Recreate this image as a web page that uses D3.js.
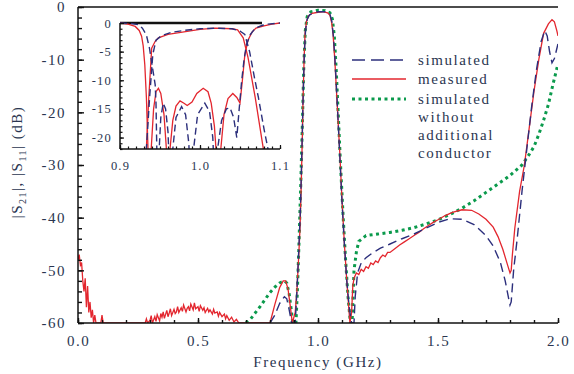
<!DOCTYPE html>
<html>
<head>
<meta charset="utf-8">
<script src="https://cdn.jsdelivr.net/npm/d3@7"></script>
<style>
  body { margin: 0; background: #fff; }
  svg text { font-family: "Liberation Serif", "DejaVu Serif", serif; fill: #2a3550; }
</style>
</head>
<body>
<script>
// S21 over the whole sweep, [GHz, dB]
const measured = [
  [0.0,-48],[0.005,-47],[0.01,-49],[0.015,-48.5],[0.02,-52],[0.025,-54],[0.03,-51.5],[0.035,-57],
  [0.04,-53],[0.045,-58],[0.05,-56],[0.055,-59],[0.06,-57.5],[0.065,-60],[0.07,-58.5],[0.075,-60],
  [0.095,-60],[0.1,-58.5],[0.105,-60],[0.28,-60],[0.285,-59.2],[0.29,-60],[0.3,-59.5],[0.305,-58.6],
  [0.31,-60],[0.32,-58.8],[0.325,-59.7],[0.33,-58.4],[0.34,-59.6],[0.345,-58.2],[0.35,-58.9],[0.355,-57.9],
  [0.36,-59.1],[0.37,-57.6],[0.375,-58.8],[0.38,-58.1],[0.385,-57.3],[0.39,-58.6],[0.4,-57.4],[0.405,-58.2],
  [0.41,-57.9],[0.415,-56.9],[0.42,-58],[0.43,-57.1],[0.435,-57.8],[0.44,-56.6],[0.45,-57.9],[0.455,-57.2],
  [0.46,-56.9],[0.465,-57.7],[0.47,-56.4],[0.48,-57.5],[0.485,-56.2],[0.49,-57.3],[0.5,-56.9],[0.505,-57.8],
  [0.51,-56.7],[0.52,-57.6],[0.525,-57.1],[0.53,-58],[0.54,-57.2],[0.545,-57.9],[0.55,-57.5],[0.56,-58.3],
  [0.565,-57.4],[0.57,-58.1],[0.58,-57.9],[0.585,-58.7],[0.59,-58],[0.6,-58.8],[0.61,-58.3],[0.615,-59.2],
  [0.62,-58.6],[0.63,-59.5],[0.64,-58.9],[0.65,-59.8],[0.66,-59.3],[0.67,-60],
  [0.8,-60],[0.82,-56.5],[0.84,-53.3],[0.855,-52],[0.865,-52],
  [0.875,-53.5],[0.885,-57],[0.893,-60],[0.905,-58],[0.912,-54],[0.92,-47],[0.925,-42],[0.93,-34],
  [0.935,-24],[0.9375,-18],[0.942,-10],[0.946,-5],[0.952,-2.8],[0.96,-1.7],[0.975,-1.2],[1.0,-1.0],
  [1.02,-0.9],[1.04,-1.1],[1.05,-1.6],[1.057,-3],[1.0625,-5],[1.07,-10],[1.079,-17.7],[1.09,-27],
  [1.1,-36.6],[1.11,-45],[1.12,-52],[1.133,-60],[1.14,-58],[1.145,-53],[1.15,-51.5],[1.16,-50.5],
  [1.17,-50.8],[1.18,-49.8],[1.19,-50.2],[1.2,-49.3],[1.21,-49.6],[1.22,-48.6],[1.23,-48.9],[1.24,-48.2],
  [1.25,-48.5],[1.26,-47.6],[1.27,-47.1],[1.28,-47.4],[1.29,-46.6],[1.3,-46.6],[1.32,-45.9],[1.34,-45.2],
  [1.36,-44.6],[1.38,-44],[1.4,-43.4],[1.42,-42.8],[1.44,-42.1],[1.46,-41.5],[1.48,-40.9],[1.5,-40.4],
  [1.53,-39.6],[1.56,-39],[1.6,-38.5],[1.64,-38.6],[1.67,-39.3],[1.7,-40.3],[1.73,-41.8],[1.75,-43.6],
  [1.77,-46],[1.79,-49],[1.8,-50.5],[1.805,-50],[1.81,-47],[1.82,-42],[1.84,-35],[1.86,-30],[1.88,-23],
  [1.9,-16],[1.92,-10],[1.94,-5],[1.96,-3.2],[1.975,-2.4],[1.985,-2.8],[1.995,-4.5],[2.0,-5.5]
];
const simulated = [
  [0.8,-60],[0.82,-58.5],[0.84,-56.3],[0.86,-55],[0.87,-55.4],[0.88,-57.5],[0.89,-60],[0.905,-60],
  [0.912,-54],[0.92,-46],[0.927,-38],[0.933,-27],[0.938,-17],[0.943,-9],[0.948,-4.5],[0.955,-2.3],
  [0.965,-1.5],[0.98,-1.2],[1.0,-0.9],[1.03,-0.9],[1.05,-1.4],[1.058,-2.8],[1.065,-6],[1.072,-11],
  [1.08,-18],[1.09,-27.5],[1.1,-37],[1.11,-45],[1.12,-52],[1.13,-57],[1.14,-60],[1.15,-60],
  [1.155,-55],[1.165,-50.5],[1.18,-48.6],[1.2,-47.6],[1.23,-46.6],[1.26,-45.8],[1.3,-45],[1.35,-44],
  [1.4,-43.1],[1.45,-42],[1.5,-40.9],[1.55,-40.2],[1.6,-40.3],[1.65,-41.3],[1.7,-43.4],[1.73,-45.4],
  [1.76,-48.5],[1.78,-52],[1.795,-55.5],[1.8,-56.6],[1.805,-56],[1.815,-50],[1.83,-44],[1.85,-35],
  [1.87,-27],[1.89,-19],[1.91,-12],[1.93,-6.5],[1.945,-4.5],[1.955,-5.5],[1.965,-8.5],[1.975,-10.6],
  [1.985,-9.8],[2.0,-7]
];
const simNoConductor = [
  [0.7,-60],[0.72,-59.2],[0.74,-58],[0.76,-56.8],[0.78,-55.5],[0.8,-54.2],[0.82,-53.2],[0.84,-52.4],
  [0.86,-52],[0.87,-52.4],[0.88,-54.5],[0.89,-58],[0.895,-60],[0.908,-60],[0.914,-54],[0.92,-46],
  [0.928,-34],[0.935,-22],[0.941,-11],[0.947,-4.5],[0.955,-1.8],[0.97,-0.9],[1.0,-0.6],[1.03,-0.7],
  [1.05,-1.1],[1.06,-2.3],[1.068,-5.5],[1.076,-12],[1.085,-21],[1.095,-31],[1.105,-40],[1.115,-48],
  [1.125,-55],[1.135,-60],[1.142,-60],[1.146,-55],[1.15,-50],[1.16,-46.5],[1.17,-44.5],[1.2,-43.4],
  [1.25,-43.1],[1.3,-42.8],[1.35,-42.4],[1.4,-41.9],[1.45,-41.2],[1.5,-40.4],[1.55,-39.4],[1.6,-38.2],
  [1.65,-36.8],[1.7,-35.2],[1.75,-33.6],[1.8,-32],[1.85,-30],[1.88,-28],[1.9,-26.5],[1.92,-24.2],
  [1.94,-21.5],[1.96,-18.5],[1.98,-14.5],[2.0,-10.8]
];

// inset: passband close-up, S21 and S11
const insetMeasS21 = [
  [0.925,-30],[0.93,-24],[0.933,-21.8],[0.936,-13],[0.9396,-4.4],[0.944,-3.2],[0.948,-2.6],[0.96,-2],
  [0.978,-1.6],[1.0,-1.1],[1.019,-0.9],[1.04,-1],[1.047,-1.2],[1.054,-2.6],[1.06,-6],[1.069,-13],
  [1.079,-21.8],[1.085,-30]
];
const insetSimS21 = [
  [0.928,-30],[0.933,-22],[0.937,-13],[0.941,-5.5],[0.945,-3],[0.952,-2.2],[0.965,-1.6],[0.98,-1.3],
  [1.0,-1.0],[1.02,-0.9],[1.04,-1.0],[1.05,-1.4],[1.056,-2],[1.062,-5],[1.068,-9.5],[1.073,-13],
  [1.08,-18.5],[1.085,-22],[1.09,-30]
];
const insetMeasS11 = [
  [0.9,0],[0.91,-0.2],[0.919,-0.6],[0.924,-1.3],[0.927,-2.3],[0.929,-4],[0.931,-7.3],[0.933,-13],
  [0.935,-22],[0.936,-30],[0.939,-22],[0.942,-15],[0.945,-12],[0.948,-11.4],[0.951,-12.3],[0.955,-16],
  [0.958,-22],[0.96,-30],[0.9625,-22],[0.966,-17],[0.97,-14.5],[0.975,-13.6],[0.98,-14],[0.984,-14.4],
  [0.99,-13.8],[0.996,-12.3],[1.004,-11.4],[1.01,-12],[1.014,-14],[1.018,-18],[1.021,-24],[1.023,-30],
  [1.026,-22],[1.03,-16],[1.035,-13.2],[1.041,-12.3],[1.046,-13],[1.05,-14],[1.053,-10],[1.056,-5.6],
  [1.06,-3],[1.065,-1.6],[1.07,-0.9],[1.08,-0.5],[1.09,-0.2],[1.1,0]
];
const insetSimS11 = [
  [0.9,0],[0.915,-0.1],[0.923,-0.3],[0.928,-0.9],[0.933,-2.1],[0.937,-4.5],[0.94,-7.3],[0.942,-9],
  [0.944,-10.8],[0.945,-14],[0.946,-22],[0.948,-30],[0.949,-22],[0.951,-16.5],[0.954,-14],[0.957,-15],
  [0.96,-19],[0.963,-30],[0.966,-22],[0.97,-16.5],[0.977,-14.6],[0.982,-16],[0.986,-21],[0.989,-30],
  [0.992,-22],[0.997,-16],[1.006,-14],[1.012,-15.5],[1.016,-20],[1.019,-30],[1.022,-22],[1.027,-17],
  [1.033,-15],[1.0375,-14.8],[1.042,-16.5],[1.046,-20],[1.049,-15],[1.052,-10.2],[1.055,-6.5],
  [1.058,-3.8],[1.063,-2],[1.069,-0.9],[1.078,-0.4],[1.085,-0.2],[1.1,0]
];

const xTicks = [0, 0.5, 1.0, 1.5, 2.0];
const yTicks = [0, -10, -20, -30, -40, -50, -60];
const insetXTicks = [0.9, 1.0, 1.1];
const insetYTicks = [0, -5, -10, -15, -20];
const legendLabels = ["simulated", "measured", "simulated", "without", "additional", "conductor"];

const w = 574, h = 374;
const red = "#e3262e", blue = "#2c2f7c", green = "#0b9a4c";

let svg = d3.select("body").append("svg")
  .attr("width", w).attr("height", h);

// main plot
let x = d3.scaleLinear().domain([0, 2]).range([78, 558]);
let y = d3.scaleLinear().domain([-60, 0]).range([323, 7]);

svg.append("clipPath").attr("id", "mainClip")
  .append("rect").attr("x", 78).attr("y", 7).attr("width", 480).attr("height", 316);

let line = d3.line().x(d => x(d[0])).y(d => y(d[1]));

let plot = svg.append("g").attr("clip-path", "url(#mainClip)");
plot.append("path").datum(simNoConductor).attr("d", line)
  .attr("fill", "none").attr("stroke", green).attr("stroke-width", 3)
  .attr("stroke-dasharray", "3,3.5");
plot.append("path").datum(measured).attr("d", line)
  .attr("fill", "none").attr("stroke", red).attr("stroke-width", 1.3);
plot.append("path").datum(simulated).attr("d", line)
  .attr("fill", "none").attr("stroke", blue).attr("stroke-width", 1.4)
  .attr("stroke-dasharray", "9,5");

// axes, ticks pointing inward
let tickStyle = g => {
  g.selectAll(".domain").remove();
  g.selectAll("line").attr("stroke", "#111").attr("stroke-width", 1.4);
  g.selectAll("text").style("font-size", "15px").style("letter-spacing", "1.5px")
    .attr("fill", "#2a3550");
};

svg.append("g").attr("transform", "translate(0,323)")
  .call(d3.axisBottom(x).tickValues(d3.range(0, 2.01, 0.1)).tickSize(-3).tickFormat(""))
  .call(tickStyle);
svg.append("g").attr("transform", "translate(0,323)")
  .call(d3.axisBottom(x).tickValues(xTicks).tickSize(-5).tickPadding(12).tickFormat(d3.format(".1f")))
  .call(tickStyle);
svg.append("g").attr("transform", "translate(78,0)")
  .call(d3.axisLeft(y).tickValues(d3.range(-60, 0.1, 2)).tickSize(-4).tickFormat(""))
  .call(tickStyle);
svg.append("g").attr("transform", "translate(78,0)")
  .call(d3.axisLeft(y).tickValues(yTicks).tickSize(-6).tickPadding(12).tickFormat(d => d))
  .call(tickStyle);

svg.append("line").attr("x1", 78).attr("x2", 78).attr("y1", 7).attr("y2", 323)
  .attr("stroke", "#111").attr("stroke-width", 1.5);
svg.append("line").attr("x1", 78).attr("x2", 558).attr("y1", 323).attr("y2", 323)
  .attr("stroke", "#111").attr("stroke-width", 1.5);
svg.append("line").attr("x1", 78).attr("x2", 558).attr("y1", 7).attr("y2", 7)
  .attr("stroke", "#111").attr("stroke-width", 1.5);

svg.append("text").attr("x", 318).attr("y", 367).attr("text-anchor", "middle")
  .style("font-size", "15px").style("letter-spacing", "1.6px")
  .text("Frequency (GHz)");

let yl = svg.append("text").attr("transform", "translate(22,162) rotate(-90)")
  .attr("text-anchor", "middle").style("font-size", "15px").style("letter-spacing", "1.5px");
yl.append("tspan").text("|S");
yl.append("tspan").attr("dy", 4).style("font-size", "10px").text("21");
yl.append("tspan").attr("dy", -4).text("|, |S");
yl.append("tspan").attr("dy", 4).style("font-size", "10px").text("11");
yl.append("tspan").attr("dy", -4).text("| (dB)");

// legend
let legendRows = [
  {y: 60, color: blue, width: 1.4, dash: "13,6"},
  {y: 79, color: red, width: 1.3, dash: null},
  {y: 99, color: green, width: 3, dash: "3,3.5"}
];
legendRows.forEach(r => {
  svg.append("line").attr("x1", 352).attr("x2", 406).attr("y1", r.y).attr("y2", r.y)
    .attr("stroke", r.color).attr("stroke-width", r.width)
    .attr("stroke-dasharray", r.dash);
});
let legendY = [60, 79, 99, 117, 135, 153];
legendLabels.forEach((t, i) => {
  svg.append("text").attr("x", 418).attr("y", legendY[i] + 5)
    .style("font-size", "15px").style("letter-spacing", "1.6px").text(t);
});

// inset
let xi = d3.scaleLinear().domain([0.9, 1.1]).range([120, 280]);
let yi = d3.scaleLinear().domain([-22, 0]).range([149, 23]);

svg.append("clipPath").attr("id", "insetClip")
  .append("rect").attr("x", 120).attr("y", 21).attr("width", 162).attr("height", 128);

let iline = d3.line().x(d => xi(d[0])).y(d => yi(d[1]));

svg.append("line").attr("x1", 120).attr("x2", 262).attr("y1", 23).attr("y2", 23)
  .attr("stroke", "#111").attr("stroke-width", 2.6);

let inset = svg.append("g").attr("clip-path", "url(#insetClip)");
[insetMeasS21, insetMeasS11].forEach(s => {
  inset.append("path").datum(s).attr("d", iline)
    .attr("fill", "none").attr("stroke", red).attr("stroke-width", 1.3);
});
[insetSimS21, insetSimS11].forEach(s => {
  inset.append("path").datum(s).attr("d", iline)
    .attr("fill", "none").attr("stroke", blue).attr("stroke-width", 1.4)
    .attr("stroke-dasharray", "7,4");
});

let insetStyle = g => {
  g.selectAll(".domain").remove();
  g.selectAll("line").attr("stroke", "#111").attr("stroke-width", 1.2);
  g.selectAll("text").style("font-size", "12.5px").style("letter-spacing", "1.2px")
    .attr("fill", "#2a3550");
};
svg.append("g").attr("transform", "translate(0,149)")
  .call(d3.axisBottom(xi).tickValues(d3.range(0.9, 1.1001, 0.01)).tickSize(-2.5).tickFormat(""))
  .call(insetStyle);
svg.append("g").attr("transform", "translate(0,149)")
  .call(d3.axisBottom(xi).tickValues(insetXTicks).tickSize(-4).tickPadding(12).tickFormat(d3.format(".1f")))
  .call(insetStyle);
svg.append("g").attr("transform", "translate(120,0)")
  .call(d3.axisLeft(yi).tickValues(d3.range(-22, 0.1, 1)).tickSize(-2.5).tickFormat(""))
  .call(insetStyle);
svg.append("g").attr("transform", "translate(120,0)")
  .call(d3.axisLeft(yi).tickValues(insetYTicks).tickSize(-4).tickPadding(8).tickFormat(d => d))
  .call(insetStyle);

svg.append("line").attr("x1", 120).attr("x2", 120).attr("y1", 23).attr("y2", 149)
  .attr("stroke", "#111").attr("stroke-width", 1.5);
svg.append("line").attr("x1", 120).attr("x2", 280).attr("y1", 149).attr("y2", 149)
  .attr("stroke", "#111").attr("stroke-width", 1.5);
</script>
</body>
</html>
